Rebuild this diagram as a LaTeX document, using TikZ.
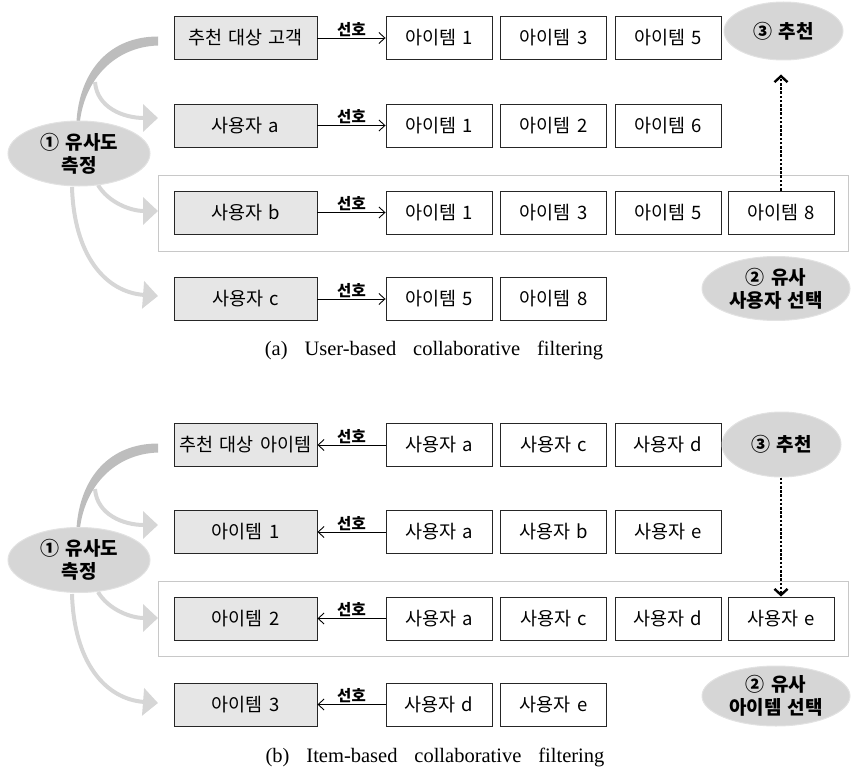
\documentclass[tikz,border=0pt]{standalone}
\usepackage{fontspec}
\usetikzlibrary{arrows.meta,shapes.geometric}
\newfontfamily\kr[WordSpace=1.5]{Noto Sans CJK KR}
\newfontfamily\capfont[WordSpace=3.3]{Liberation Serif}
\definecolor{boxgray}{HTML}{E6E6E6}
\definecolor{ovalgray}{HTML}{D6D6D6}
\definecolor{ovalline}{HTML}{E2E2E2}
\definecolor{flowgray}{HTML}{D6D6D6}
\definecolor{trunkgray}{HTML}{BDBDBD}
\definecolor{hlline}{HTML}{C8C8C8}
\tikzset{
  cell/.style={draw=black!85, line width=0.9pt, minimum height=43pt, inner sep=0pt,
    font=\kr\fontsize{18.5}{20}\selectfont},
  gbox/.style={cell, fill=boxgray, minimum width=143pt},
  ibox/.style={cell, fill=white, minimum width=106pt},
  pref/.style={line width=0.9pt, -{Straight Barb[length=6pt,width=11pt]}},
  prefback/.style={line width=0.9pt, {Straight Barb[length=6pt,width=11pt]}-},
  lbl/.style={font=\kr\bfseries\fontsize{15.5}{17}\selectfont, inner sep=1pt},
  oval/.style={ellipse, fill=ovalgray, draw=ovalline, line width=1pt, inner sep=0pt,
    align=center, font=\kr\bfseries\fontsize{19}{23}\selectfont},
  hlbox/.style={draw=hlline, line width=1pt},
  dotarrow/.style={line width=2.8pt, dash pattern=on 2.6pt off 1.6pt,
    -{Straight Barb[length=6pt,width=13pt,line width=2.4pt]}},
  flow/.style={draw=flowgray, line width=4pt,
    -{Triangle[width=27pt,length=15pt,fill=flowgray]}},
  caption/.style={font=\capfont\fontsize{20.5}{23}\selectfont, inner sep=0pt}
}
% curved similarity arrows fanning out from the first ellipse
\newcommand\simflow{%
  \fill[trunkgray] (158,36.5) .. controls (110,36.5) and (80,70) .. (76.5,121)
    -- (80,121) .. controls (85,80) and (114,47) .. (158,45.5) -- cycle;
  \draw[flow] (95,82) .. controls (97,108) and (124,118) .. (158,118);
  \draw[flow] (98,185) .. controls (108,202) and (130,211) .. (158,211);
  \draw[flow] (72,187) .. controls (74,255) and (105,292) .. (158,296);
}
\begin{document}
\begin{tikzpicture}[x=1pt,y=-1pt]
\useasboundingbox (0,0) rectangle (852,768);

% ---------------- (a) user-based ----------------
\draw[hlbox] (158,175) rectangle (848,251);
\simflow

\node[gbox] (u0) at (245.5,38) {추천 대상 고객};
\node[ibox] (u0a) at (439,38) {아이템 1};
\node[ibox] (u0b) at (553.5,38) {아이템 3};
\node[ibox] (u0c) at (668,38) {아이템 5};

\node[gbox] (u1) at (245.5,125.5) {사용자 a};
\node[ibox] (u1a) at (439,125.5) {아이템 1};
\node[ibox] (u1b) at (553.5,125.5) {아이템 2};
\node[ibox] (u1c) at (668,125.5) {아이템 6};

\node[gbox] (u2) at (245.5,212.5) {사용자 b};
\node[ibox] (u2a) at (439,212.5) {아이템 1};
\node[ibox] (u2b) at (553.5,212.5) {아이템 3};
\node[ibox] (u2c) at (668,212.5) {아이템 5};
\node[ibox] (u2d) at (781,212.5) {아이템 8};

\node[gbox] (u3) at (245.5,299) {사용자 c};
\node[ibox] (u3a) at (439,299) {아이템 5};
\node[ibox] (u3b) at (553.5,299) {아이템 8};

\foreach \r in {u0,u1,u2,u3}
  \draw[pref] (\r.east) -- (\r a.west) node[midway,above,lbl] {선호};

\node[oval, minimum width=142pt, minimum height=65pt] (ma) at (79,153.5) {① 유사도\\측정};
\node[oval, minimum width=119pt, minimum height=58pt] (ra) at (783.5,31) {③ 추천};
\node[oval, minimum width=148pt, minimum height=64pt] (sa) at (776,288.5) {② 유사\\사용자 선택};

\draw[dotarrow, shorten >=14pt] (u2d.north) -- (u2d.north |- ra.south);

\node[caption] (capa) at (434,350) {(a) User-based collaborative filtering};

% ---------------- (b) item-based ----------------
\draw[hlbox] (158,581) rectangle (848,656);
\begin{scope}[yshift=-407pt]
  \simflow
\end{scope}

\node[gbox] (v0) at (245.5,445) {추천 대상 아이템};
\node[ibox] (v0a) at (439,445) {사용자 a};
\node[ibox] (v0b) at (553.5,445) {사용자 c};
\node[ibox] (v0c) at (668,445) {사용자 d};

\node[gbox] (v1) at (245.5,532) {아이템 1};
\node[ibox] (v1a) at (439,532) {사용자 a};
\node[ibox] (v1b) at (553.5,532) {사용자 b};
\node[ibox] (v1c) at (668,532) {사용자 e};

\node[gbox] (v2) at (245.5,618.5) {아이템 2};
\node[ibox] (v2a) at (439,618.5) {사용자 a};
\node[ibox] (v2b) at (553.5,618.5) {사용자 c};
\node[ibox] (v2c) at (668,618.5) {사용자 d};
\node[ibox] (v2d) at (781,618.5) {사용자 e};

\node[gbox] (v3) at (245.5,704.5) {아이템 3};
\node[ibox] (v3a) at (439,704.5) {사용자 d};
\node[ibox] (v3b) at (553.5,704.5) {사용자 e};

\foreach \r in {v0,v1,v2,v3}
  \draw[prefback] (\r.east) -- (\r a.west) node[midway,above,lbl] {선호};

\node[oval, minimum width=142pt, minimum height=65pt] (mb) at (79,560) {① 유사도\\측정};
\node[oval, minimum width=119pt, minimum height=65pt] (rb) at (781.5,444.5) {③ 추천};
\node[oval, minimum width=148pt, minimum height=60pt] (sb) at (776,696) {② 유사\\아이템 선택};

\draw[dotarrow] (rb.south -| v2d.north) -- (v2d.north);

\node[caption] (capb) at (435,757) {(b) Item-based collaborative filtering};
\end{tikzpicture}
\end{document}
